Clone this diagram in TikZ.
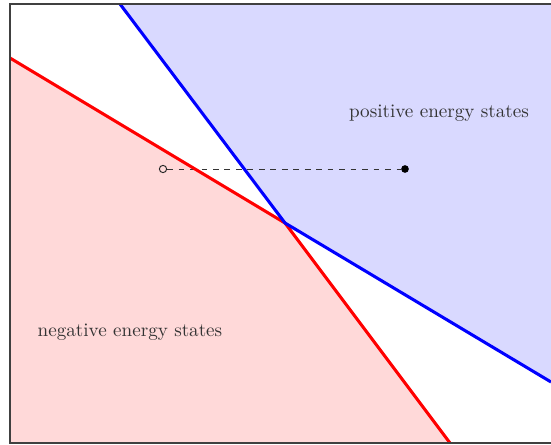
\documentclass[tikz,border=0pt]{standalone}
\begin{document}
\begin{tikzpicture}[x=0.523pt,y=-0.523pt,
  bound/.style={line width=1.6pt,line join=round},
  posfill/.style={fill=blue!15},
  negfill/.style={fill=red!15},
  frame/.style={draw=black!75,line width=0.6pt},
  lbl/.style={font=\normalsize,text=black!80}]
\useasboundingbox (0,0) rectangle (551,444);
\clip (0,0) rectangle (551,444);
% key points
\coordinate (X) at (285,223);
\coordinate (BT) at (120,4);
\coordinate (BR) at (551,382);
\coordinate (RL) at (10,58);
\coordinate (RB) at (450,443);
% regions
\fill[posfill] (BT) -- (X) -- (BR) -- (551,4) -- cycle;
\fill[negfill] (RL) -- (X) -- (RB) -- (10,443) -- cycle;
% transition
\node[circle,draw=black!85,inner sep=0pt,minimum size=3.8pt,line width=0.5pt] (o) at (163,169) {};
\node[circle,fill=black,inner sep=0pt,minimum size=4pt] (p) at (405,169) {};
\draw[dashed,black!80,line width=0.45pt] (o) -- (p);
% boundaries
\draw[bound,red] (RL) -- (X) -- (RB);
\draw[bound,blue] (BT) -- (X) -- (BR);
% labels
\node[lbl] (pos) at (439,113) {positive energy states};
\node[lbl] (neg) at (130,332) {negative energy states};
% frame
\draw[frame] (10,4) rectangle (560,443);
\end{tikzpicture}
\end{document}
